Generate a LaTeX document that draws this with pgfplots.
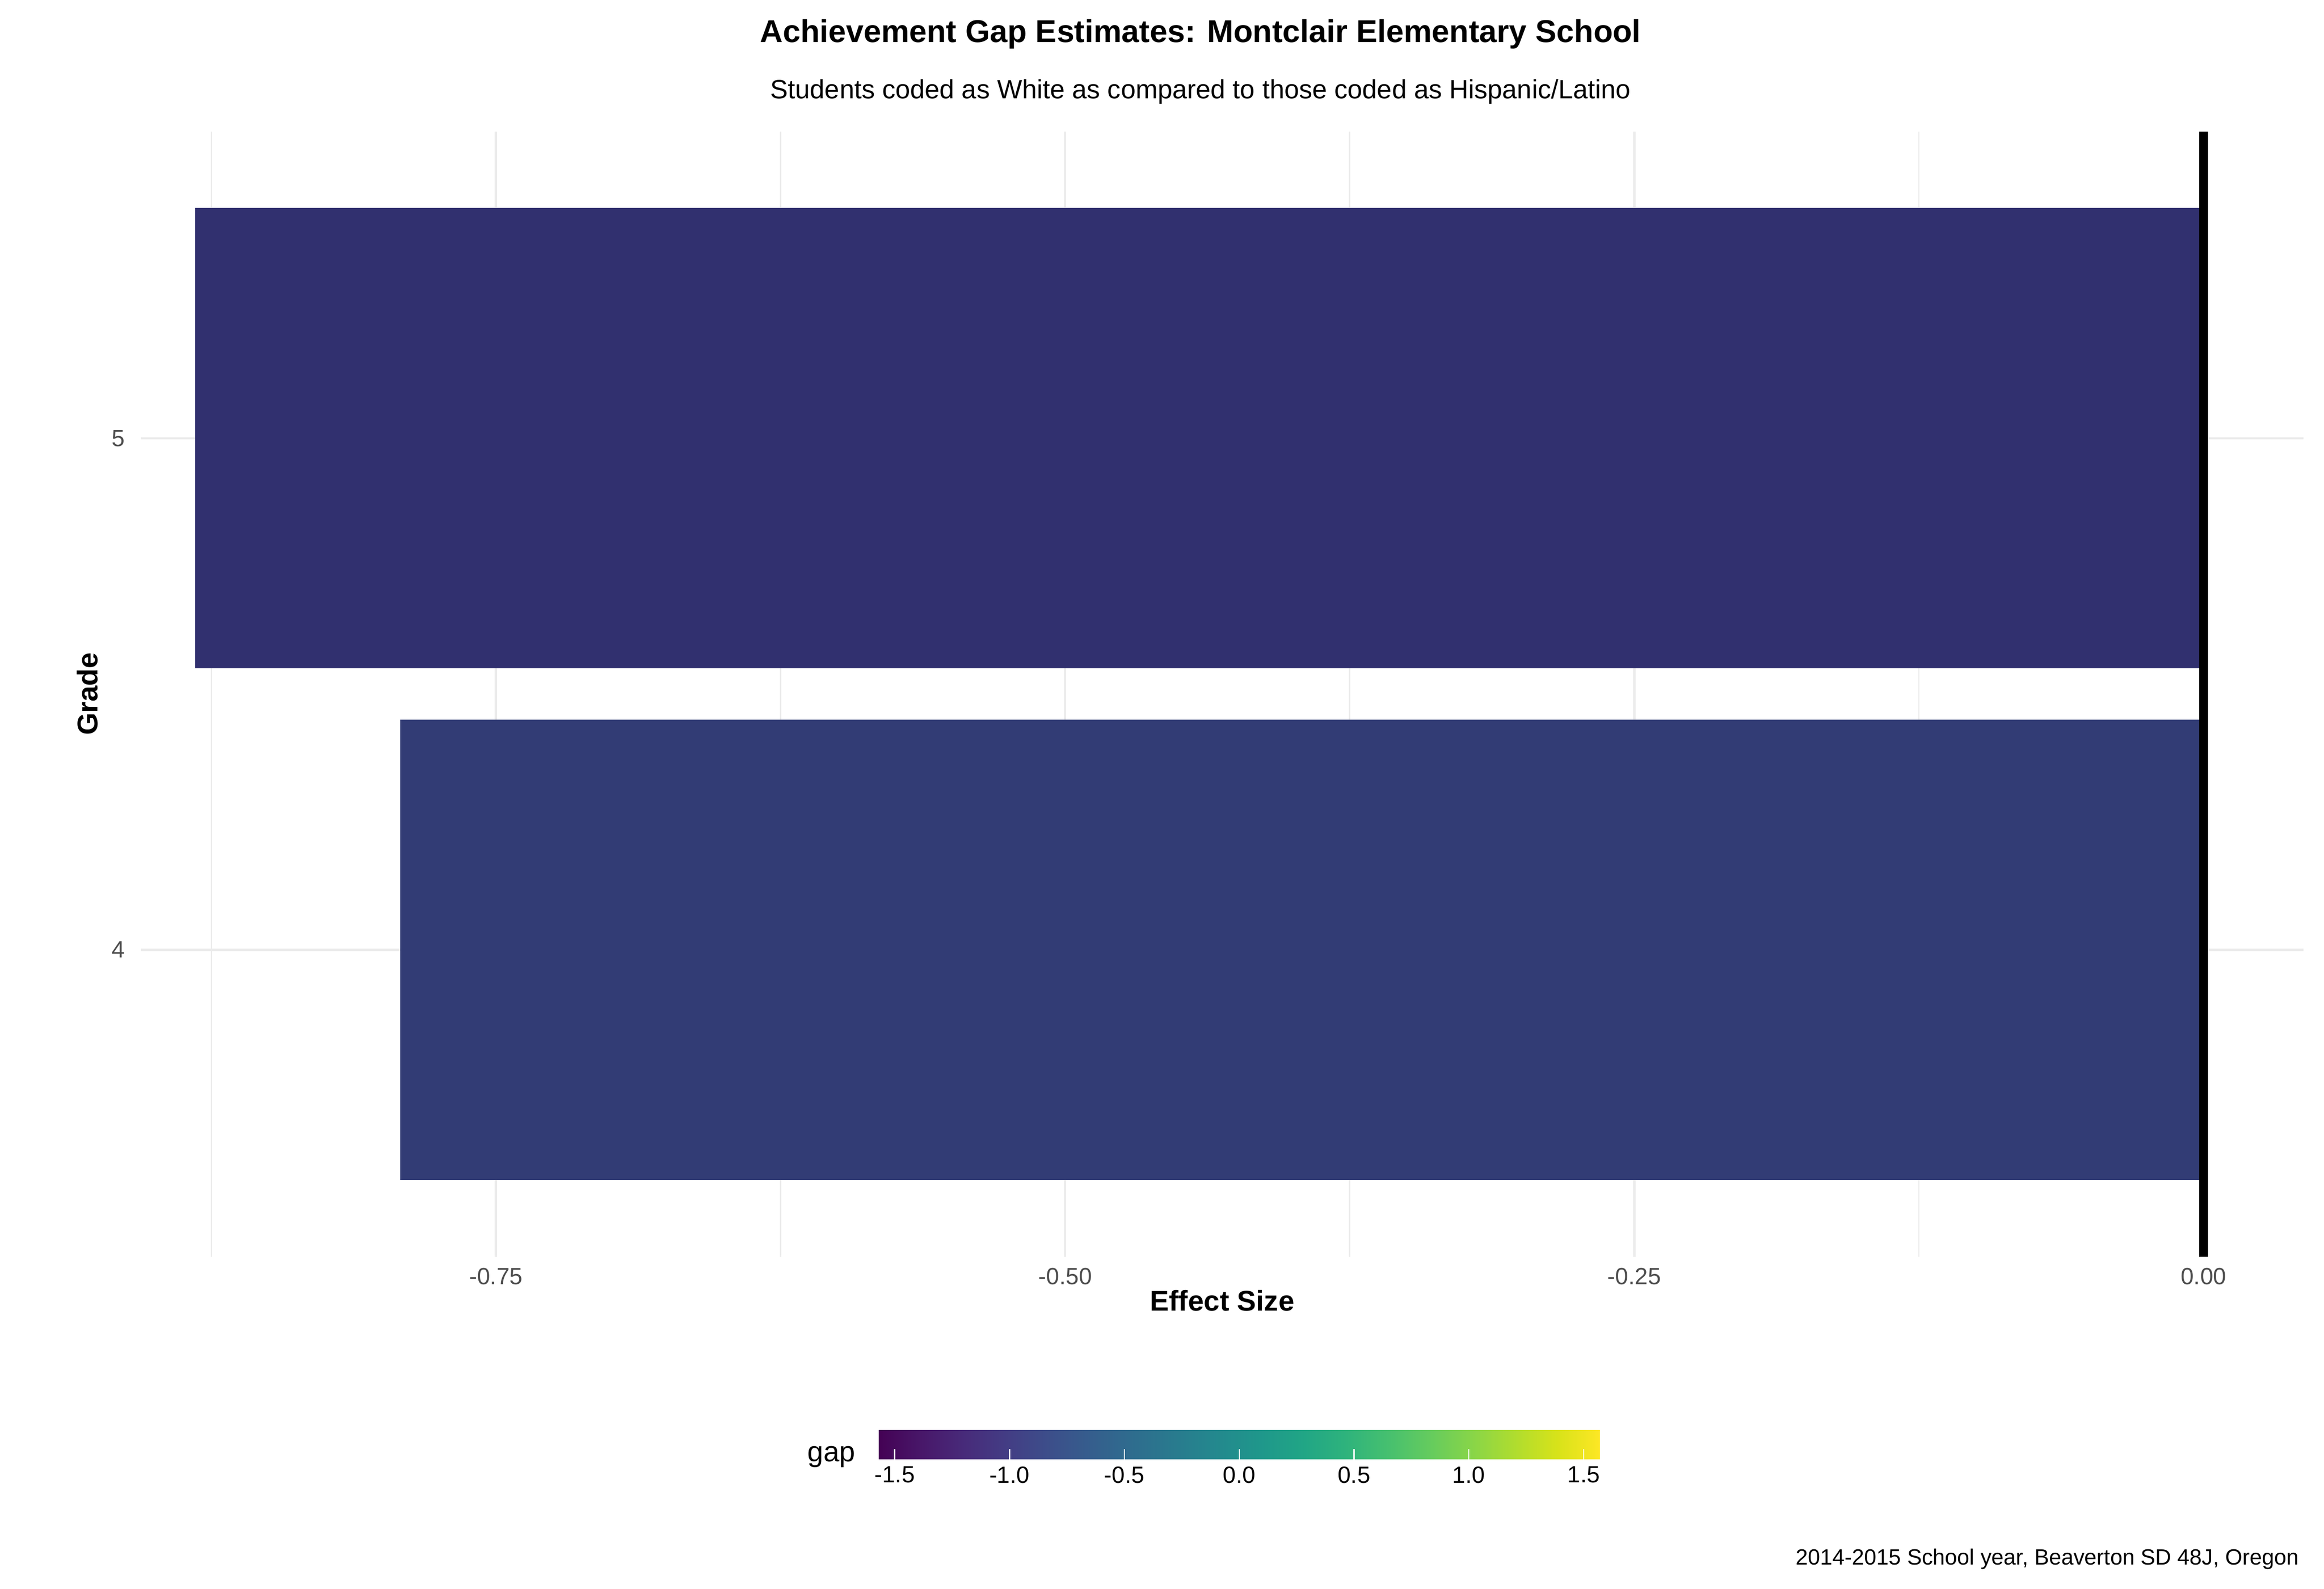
\documentclass[border=0pt]{standalone}
\usepackage{pgfplots}
\pgfplotsset{compat=1.18}
\usepackage{fontspec}
\setmainfont{Liberation Sans}
\definecolor{gridc}{HTML}{EBEBEB}
\definecolor{tickc}{HTML}{4D4D4D}
\definecolor{barA}{HTML}{31306F}
\definecolor{barB}{HTML}{323C75}
\begin{document}
\begin{tikzpicture}
\path[use as bounding box] (0,0) rectangle (1140pt,779.3pt);
\begin{axis}[at={(69.07pt,162.85pt)}, anchor=south west, scale only axis,
  width=1061pt, height=552pt,
  xmin=-0.906, xmax=0.044, ymin=3.4, ymax=5.6,
  axis line style={draw=none},
  xtick={-0.75,-0.5,-0.25,0}, xticklabels={-0.75,-0.50,-0.25,0.00},
  minor xtick={-0.875,-0.625,-0.375,-0.125},
  ytick={4,5}, yticklabels={4,5},
  tick style={draw=none},
  xmajorgrids, ymajorgrids, xminorgrids,
  major grid style={gridc, line width=1.1pt},
  minor grid style={gridc, line width=0.6pt},
  ticklabel style={font=\fontsize{11.5}{13}\selectfont, text=tickc},
  xticklabel style={yshift=-2pt},
  xlabel={\textbf{Effect Size}}, ylabel={\textbf{Grade}},
  label style={font=\fontsize{14}{16}\selectfont},
  xlabel style={yshift=4pt},
  xbar, bar width=0.9, bar shift=0pt,
  colormap/viridis, point meta min=-1.571, point meta max=1.571,
  colorbar horizontal,
  colorbar style={at={(0.341,-0.1276)}, anchor=north west, width=354pt, height=29pt,
    xtick={-1.5,-1,-0.5,0,0.5,1,1.5},
    xticklabels={-1.5,-1.0,-0.5,0.0,0.5,1.0,1.5},
    major tick length=5pt, tick style={draw=white, line width=0.6pt},
    axis line style={draw=none},
    xticklabel style={font=\fontsize{11.5}{13}\selectfont, text=black},
    xtick pos=both},
]
\addplot[fill=barA, draw=none] coordinates {(-0.882,5)};
\addplot[fill=barB, draw=none] coordinates {(-0.792,4)};
\draw[black, line width=4.4pt] (axis cs:0,3.4) -- (axis cs:0,5.6);
\end{axis}
\node[font=\bfseries\fontsize{15.5}{18}\selectfont] at (588.9pt,762.6pt) {Achievement Gap Estimates: Montclair Elementary School};
\node[font=\fontsize{13}{15}\selectfont] at (588.9pt,734.2pt) {Students coded as White as compared to those coded as Hispanic/Latino};
\node[font=\fontsize{14}{16}\selectfont, anchor=east] at (423.1pt,64.7pt) {gap};
\node[font=\fontsize{10.8}{13}\selectfont, anchor=east] at (1131.2pt,14.5pt) {2014-2015 School year, Beaverton SD 48J, Oregon};
\end{tikzpicture}
\end{document}
